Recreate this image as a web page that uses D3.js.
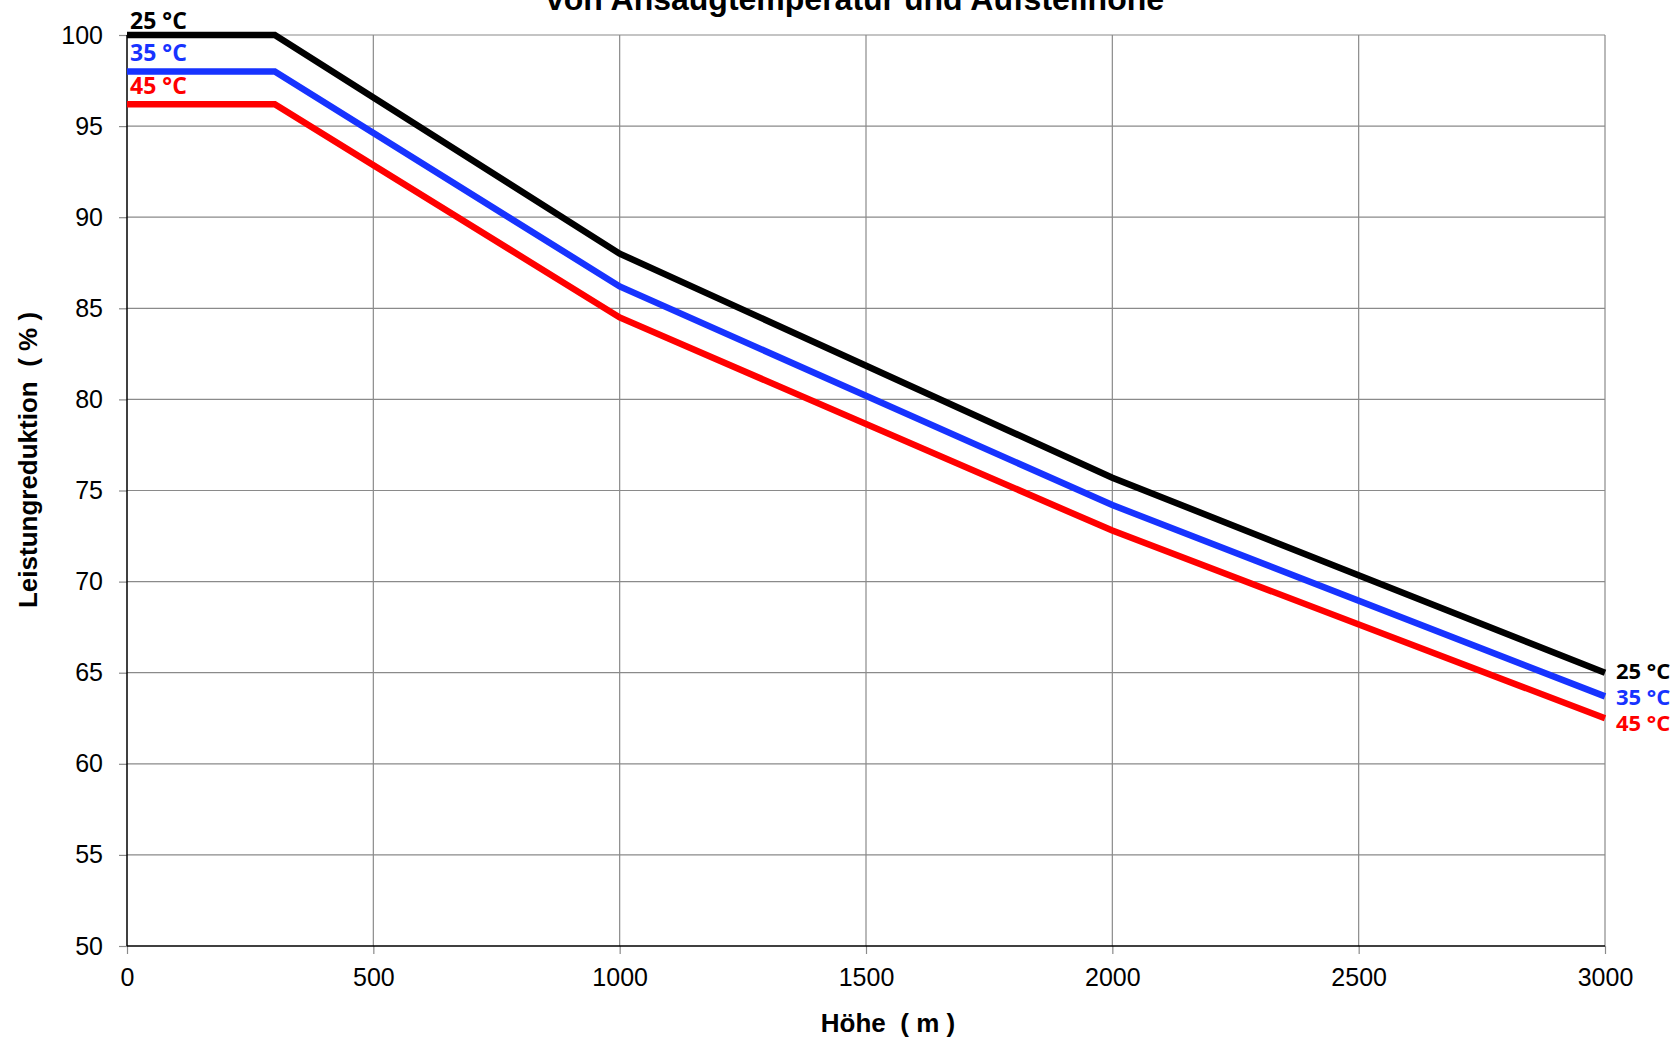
<!DOCTYPE html>
<html><head><meta charset="utf-8">
<script src="https://cdn.jsdelivr.net/npm/d3@7"></script>
<style>html,body{margin:0;padding:0;background:#fff;overflow:hidden}</style>
</head><body>
<svg id="c" width="1678" height="1039"></svg>
<script>
const altitudes = [0, 300, 1000, 2000, 3000];
const seriesNames = ["25 °C", "35 °C", "45 °C"];
const values25 = [100, 100, 88.0, 75.7, 65.0];
const values35 = [98.0, 98.0, 86.2, 74.2, 63.7];
const values45 = [96.2, 96.2, 84.5, 72.8, 62.5];
const seriesColors = ["#000000", "#1733ff", "#ff0000"];
const xTicks = [0, 500, 1000, 1500, 2000, 2500, 3000];
const yTicks = [50, 55, 60, 65, 70, 75, 80, 85, 90, 95, 100];
const titleText = "von Ansaugtemperatur und Aufstellhöhe";
const xTitle = "Höhe  ( m )";
const yTitle = "Leistungreduktion  ( % )";

const allSeries = [values25, values35, values45];
const svg = d3.select("#c");
const x = d3.scaleLinear().domain([0, 3000]).range([127, 1605]);
const y = d3.scaleLinear().domain([50, 100]).range([946, 35]);

// grid
const g = svg.append("g");
g.selectAll("line.h").data(yTicks.filter(v => v > 50)).join("line")
  .attr("x1", x(0)).attr("x2", x(3000)).attr("y1", d => y(d)).attr("y2", d => y(d))
  .attr("stroke", "#8a8a8a").attr("stroke-width", 1.2);
g.selectAll("line.v").data(xTicks.filter(v => v > 0)).join("line")
  .attr("y1", y(50)).attr("y2", y(100)).attr("x1", d => x(d)).attr("x2", d => x(d))
  .attr("stroke", "#8a8a8a").attr("stroke-width", 1.2);

// axes
const yAxis = d3.axisLeft(y).tickValues(yTicks).tickSize(8).tickPadding(16).tickFormat(d3.format("d"));
const xAxis = d3.axisBottom(x).tickValues(xTicks).tickSize(8).tickPadding(14).tickFormat(d3.format("d"));
const ya = svg.append("g").attr("transform", `translate(${x(0)},0)`).call(yAxis);
const xa = svg.append("g").attr("transform", `translate(0,${y(50)})`).call(xAxis);
[ya, xa].forEach(a => {
  a.select(".domain").remove();
  a.selectAll(".tick line").attr("stroke", "#8a8a8a").attr("stroke-width", 1.2);
  a.selectAll(".tick text").attr("font-family", "Liberation Sans, Arial, sans-serif")
    .attr("font-size", 25).attr("fill", "#000");
});
svg.append("line").attr("x1", x(0)).attr("x2", x(0)).attr("y1", y(100)).attr("y2", y(50))
  .attr("stroke", "#000").attr("stroke-width", 1.5);
svg.append("line").attr("x1", x(0)).attr("x2", x(3000)).attr("y1", y(50)).attr("y2", y(50))
  .attr("stroke", "#000").attr("stroke-width", 1.5);

// lines
const line = d3.line().x((d, i) => x(altitudes[i])).y(d => y(d));
svg.selectAll("path.s").data(allSeries).join("path")
  .attr("d", d => line(d)).attr("fill", "none")
  .attr("stroke", (d, i) => seriesColors[i]).attr("stroke-width", 6.5)
  .attr("stroke-linejoin", "miter");

// series labels
const labFont = "Open Sans, Noto Sans, sans-serif";
const leftBase = [29, 61, 94];
const rightBase = [679, 705, 731];
seriesNames.forEach((n, i) => {
  svg.append("text").attr("x", 130).attr("y", leftBase[i]).text(n)
    .attr("font-family", labFont).attr("font-weight", 700).attr("font-size", 23)
    .attr("fill", seriesColors[i]);
  svg.append("text").attr("x", 1616).attr("y", rightBase[i]).text(n)
    .attr("font-family", labFont).attr("font-weight", 700).attr("font-size", 22)
    .attr("fill", seriesColors[i]);
});

// titles
svg.append("text").attr("x", 855).attr("y", 10).attr("text-anchor", "middle")
  .attr("font-family", "Liberation Sans, Arial, sans-serif").attr("font-weight", 700)
  .attr("font-size", 32).text(titleText);
svg.append("text").attr("x", 888).attr("y", 1032).attr("text-anchor", "middle")
  .attr("font-family", "Liberation Sans, Arial, sans-serif").attr("font-weight", 700)
  .attr("font-size", 26).style("white-space", "pre").text(xTitle);
svg.append("text").attr("transform", "translate(37,460) rotate(-90)").attr("text-anchor", "middle")
  .attr("font-family", "Liberation Sans, Arial, sans-serif").attr("font-weight", 700)
  .attr("font-size", 26).style("white-space", "pre").text(yTitle);
</script>
</body></html>
